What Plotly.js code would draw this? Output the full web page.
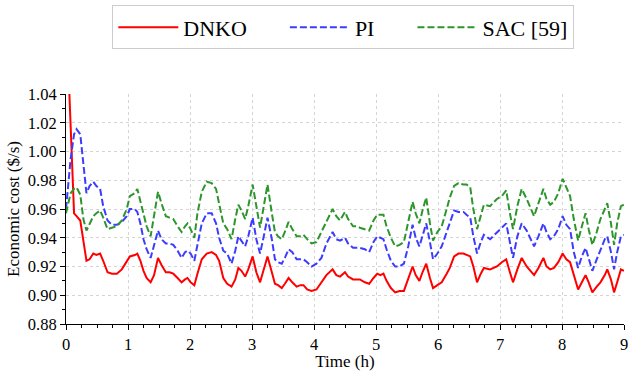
<!DOCTYPE html>
<html>
<head>
<meta charset="utf-8">
<script src="https://cdn.plot.ly/plotly-3.0.1.min.js"></script>
<style>html,body{margin:0;padding:0;background:#fff;}#chart{width:630px;height:371px;}</style>
</head>
<body>
<div id="chart"></div>
<script>
const seriesNames = ["DNKO", "PI", "SAC [59]"];
const timeH = [0,0.075,0.13,0.17,0.23,0.28,0.33,0.38,0.44,0.49,0.55,0.60,0.67,0.74,0.82,0.90,0.98,1.03,1.11,1.15,1.20,1.25,
1.30,1.365,1.42,1.484,1.54,1.61,1.67,1.73,1.80,1.865,1.92,1.96,2.01,2.07,2.12,2.19,2.27,2.35,2.42,2.47,2.537,
2.60,2.67,2.73,2.78,2.83,2.89,2.94,3.01,3.07,3.13,3.19,3.25,3.32,3.37,3.42,3.48,3.53,3.59,3.65,3.72,3.78,3.83,
3.89,3.96,4.04,4.12,4.20,4.30,4.36,4.42,4.50,4.55,4.63,4.69,4.74,4.82,4.89,4.96,5.02,5.07,5.12,
5.17,5.24,5.31,5.38,5.45,5.52,5.59,5.64,5.70,5.75,5.81,5.87,5.92,5.99,6.06,6.14,6.19,6.26,6.33,6.41,
6.46,6.52,6.57,6.63,6.69,6.74,6.84,6.95,7.03,7.10,7.16,7.21,7.28,7.35,7.43,7.49,7.55,7.62,7.70,
7.75,7.81,7.87,7.94,8.01,8.07,8.13,8.19,8.26,8.32,8.38,8.43,8.49,8.56,8.62,8.69,8.73,8.79,8.84,8.89,8.95,9.0];
const dnko = [1.10,1.017,0.957,0.955,0.952,0.938,0.924,0.925,0.929,0.928,0.929,0.924,0.916,0.915,0.915,0.918,0.923,0.927,0.928,0.929,0.924,0.917,
0.912,0.909,0.914,0.926,0.921,0.916,0.916,0.915,0.912,0.909,0.911,0.912,0.909,0.907,0.915,0.925,0.929,0.930,0.928,0.924,0.912,
0.908,0.906,0.911,0.919,0.917,0.913,0.918,0.927,0.916,0.909,0.918,0.927,0.916,0.908,0.907,0.905,0.908,0.912,0.909,0.906,0.907,0.907,
0.904,0.903,0.904,0.909,0.914,0.918,0.914,0.913,0.916,0.913,0.911,0.911,0.911,0.909,0.908,0.912,0.915,0.914,0.915,
0.910,0.905,0.902,0.903,0.903,0.912,0.920,0.914,0.910,0.916,0.922,0.912,0.905,0.907,0.909,0.915,0.919,0.927,0.929,0.929,
0.928,0.927,0.920,0.909,0.915,0.919,0.918,0.920,0.923,0.925,0.916,0.909,0.918,0.926,0.920,0.917,0.914,0.919,0.926,
0.920,0.918,0.919,0.923,0.929,0.925,0.923,0.914,0.904,0.909,0.914,0.909,0.902,0.906,0.909,0.914,0.918,0.911,0.902,0.909,0.918,0.917];
const pi = [0.960,0.995,1.012,1.0155,1.012,0.990,0.971,0.976,0.979,0.976,0.974,0.962,0.952,0.949,0.949,0.951,0.955,0.960,0.960,0.958,0.950,0.939,
0.932,0.926,0.934,0.945,0.939,0.936,0.936,0.935,0.931,0.926,0.930,0.931,0.929,0.924,0.935,0.950,0.957,0.957,0.950,0.940,0.931,
0.929,0.922,0.931,0.941,0.938,0.934,0.941,0.954,0.939,0.929,0.941,0.954,0.939,0.925,0.923,0.922,0.926,0.932,0.930,0.925,0.925,0.925,
0.923,0.920,0.922,0.926,0.936,0.944,0.939,0.938,0.940,0.936,0.933,0.933,0.933,0.932,0.930,0.937,0.941,0.940,0.939,
0.932,0.924,0.920,0.920,0.922,0.934,0.949,0.940,0.934,0.941,0.950,0.937,0.925,0.929,0.934,0.944,0.950,0.959,0.958,0.958,
0.956,0.954,0.941,0.929,0.937,0.942,0.939,0.944,0.947,0.950,0.937,0.926,0.941,0.950,0.945,0.940,0.934,0.941,0.950,
0.944,0.939,0.941,0.946,0.955,0.949,0.946,0.930,0.919,0.927,0.933,0.925,0.917,0.925,0.932,0.939,0.941,0.930,0.918,0.930,0.941,0.942];
const sac = [0.957,0.971,0.974,0.975,0.970,0.953,0.945,0.950,0.955,0.957,0.959,0.954,0.946,0.947,0.948,0.952,0.960,0.969,0.971,0.974,0.966,0.957,
0.948,0.941,0.955,0.972,0.964,0.955,0.954,0.953,0.948,0.944,0.948,0.950,0.946,0.940,0.957,0.972,0.979,0.978,0.974,0.964,0.950,
0.946,0.939,0.953,0.963,0.959,0.953,0.962,0.977,0.962,0.947,0.962,0.977,0.957,0.944,0.941,0.939,0.944,0.951,0.946,0.941,0.941,0.942,
0.939,0.936,0.937,0.944,0.952,0.960,0.955,0.952,0.958,0.953,0.948,0.948,0.947,0.946,0.945,0.952,0.956,0.956,0.956,
0.948,0.940,0.934,0.935,0.937,0.950,0.965,0.957,0.950,0.959,0.968,0.950,0.938,0.944,0.948,0.960,0.968,0.976,0.978,0.977,
0.977,0.975,0.960,0.946,0.955,0.963,0.962,0.967,0.969,0.973,0.957,0.946,0.962,0.974,0.967,0.961,0.955,0.964,0.974,
0.967,0.963,0.965,0.971,0.981,0.975,0.969,0.953,0.938,0.948,0.957,0.946,0.935,0.944,0.953,0.960,0.964,0.950,0.935,0.950,0.962,0.963];
const xTicks = [0,1,2,3,4,5,6,7,8,9];
const yTicks = [0.88,0.90,0.92,0.94,0.96,0.98,1.00,1.02,1.04];

const serif = "Times New Roman, Liberation Serif, serif";
const pad = "&nbsp;".repeat(6);
const traces = [
  {x: timeH, y: dnko, name: seriesNames[0] + pad, mode: "lines", line: {color: "rgb(255,0,0)", width: 2}},
  {x: timeH, y: pi, name: seriesNames[1] + pad, mode: "lines", line: {color: "rgb(60,60,255)", width: 2, dash: "7px,3px"}},
  {x: timeH, y: sac, name: seriesNames[2], mode: "lines", line: {color: "rgb(44,150,44)", width: 2, dash: "7px,3px"}}
];
const gridStyle = {showgrid: true, gridcolor: "#d4d4d4", griddash: "dot", gridwidth: 1};
const layout = {
  width: 630, height: 371,
  margin: {l: 66, r: 6, t: 92, b: 47},
  paper_bgcolor: "#fff", plot_bgcolor: "#fff",
  font: {family: serif, size: 16, color: "#000"},
  showlegend: true,
  legend: {orientation: "h", x: 0.497, xanchor: "center", y: 1.385, yanchor: "top",
    font: {family: serif, size: 22, color: "#000"}, bordercolor: "#cccccc", borderwidth: 1, bgcolor: "#fff", itemwidth: 60},
  xaxis: Object.assign({range: [0, 9], tickvals: xTicks, ticktext: xTicks.map(String),
    ticks: "outside", ticklen: 5, tickcolor: "#000", showline: true, linecolor: "#000", linewidth: 1,
    zeroline: false, tickfont: {family: serif, size: 16.5},
    minor: {dtick: 0.25, ticks: "outside", ticklen: 3, tickcolor: "#000", showgrid: false},
    title: {text: "Time (h)", font: {family: serif, size: 17}, standoff: 4}}, gridStyle),
  yaxis: Object.assign({range: [0.88, 1.04], tickvals: yTicks, ticktext: yTicks.map(v => v.toFixed(2)),
    ticks: "outside", ticklen: 5, tickcolor: "#000", showline: true, linecolor: "#000", linewidth: 1,
    zeroline: false, tickfont: {family: serif, size: 16.5},
    minor: {dtick: 0.01, tick0: 0.88, ticks: "outside", ticklen: 3, tickcolor: "#000", showgrid: false},
    title: {text: "Economic cost ($/s)", font: {family: serif, size: 17}, standoff: 3}}, gridStyle)
};
Plotly.newPlot("chart", traces, layout, {displayModeBar: false, staticPlot: true});
</script>
</body>
</html>
